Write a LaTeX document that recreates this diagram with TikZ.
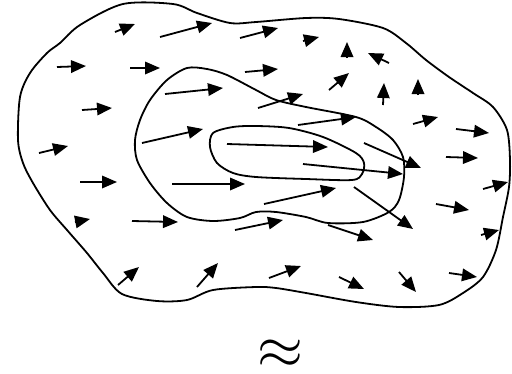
\documentclass[tikz,border=0pt]{standalone}
\usetikzlibrary{arrows.meta}
\tikzset{
  contour/.style={line width=1.8pt, line join=round},
  vec/.style={line width=1.8pt, -{Triangle[length=15pt,width=12.5pt]}},
  bigsign/.style={scale=5.9, inner sep=0pt},
}
\begin{document}
\begin{tikzpicture}[x=1pt,y=-1pt]
\useasboundingbox (0,0) rectangle (512,373);
% outer contour
\draw[contour] plot[smooth cycle, tension=0.5] coordinates {(123,4) (173,4) (197,13) (230,23) (256,22) (306,18) (339,19) (383,28) (406,43) (426,60) (449,77) (473,93) (493,107) (507,130) (510,160) (509,187) (503,217) (496,250) (483,277) (463,293) (439,305) (399,307) (356,302) (306,293) (276,288) (256,287) (213,290) (187,300) (157,301) (122,294) (103,273) (87,253) (67,230) (50,210) (33,183) (23,163) (18,140) (20,97) (30,73) (47,53) (60,43) (80,25)};
% middle contour
\draw[contour] plot[smooth cycle, tension=0.5] coordinates {(187,68) (207,69) (227,75) (256,90) (276,100) (306,107) (356,117) (376,127) (393,140) (403,157) (404,177) (399,200) (389,212) (363,222) (328,223) (306,217) (276,212) (256,212) (240,218) (213,221) (187,217) (167,203) (150,183) (137,160) (135,140) (140,120) (150,100) (167,80)};
% inner contour
\draw[contour] plot[smooth cycle, tension=0.5] coordinates {(213,133) (233,127) (256,126) (289,128) (323,137) (356,153) (364,163) (362,174) (352,180) (306,179) (256,177) (233,173) (217,163) (210,147)};
% vectors
\foreach \xa/\ya/\xb/\yb in {115/32/135/24, 160/37/212/23, 240/38/278/28, 57/67/86/66, 130/68/160/68, 245/72/278/69, 165/94/223/88, 82/110/112/108, 142/143/203/129, 39/153/68/146, 227/144/328/147, 303/41/319/37, 347/58/347/42, 389/63/368/53, 329/90/349/73, 383/105/384/83, 418/95/418/79, 258/108/303/94, 298/125/356/117, 413/124/438/117, 456/129/489/133, 446/157/478/158, 364/143/421/168, 303/164/403/174, 264/204/336/188, 354/187/413/229, 436/204/469/210, 483/189/508/182, 235/230/283/220, 328/225/373/240, 481/235/499/230, 269/278/301/266, 339/277/364/289, 399/272/416/292, 449/273/477/277, 80/182/117/182, 172/184/245/184, 75/222/90/219, 132/221/178/222, 118/285/139/267, 197/287/218/263}{
  \draw[vec] (\xa,\ya) -- (\xb,\yb);
}
% approximation sign
\node[bigsign] (approx) at (280,354) {$\approx$};
\end{tikzpicture}
\end{document}
